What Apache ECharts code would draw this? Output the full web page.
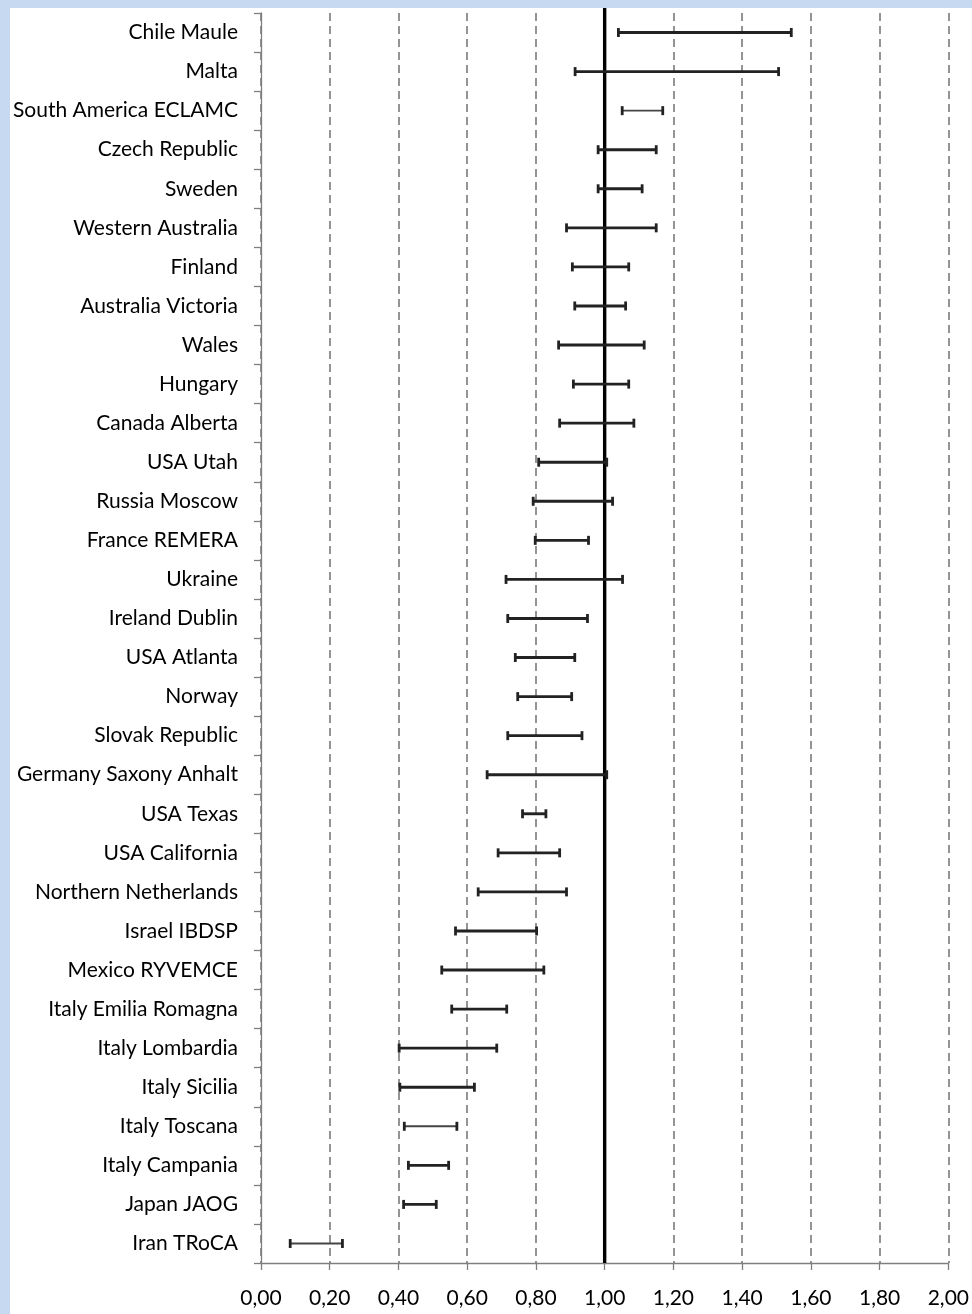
<!DOCTYPE html>
<html>
<head>
<meta charset="utf-8">
<script src="https://cdn.jsdelivr.net/npm/echarts@6/dist/echarts.min.js"></script>
<style>
  html, body { margin: 0; padding: 0; }
  #frame { position: relative; width: 972px; height: 1314px; background: #c6d9f1; overflow: hidden; }
  #chart { position: absolute; left: 10px; top: 8px; width: 962px; height: 1306px; background: #ffffff; }
</style>
</head>
<body>
<div id="frame"><div id="chart"></div></div>
<script>
// Registries, top to bottom
const registries = [
  'Chile Maule', 'Malta', 'South America ECLAMC', 'Czech Republic', 'Sweden',
  'Western Australia', 'Finland', 'Australia Victoria', 'Wales', 'Hungary',
  'Canada Alberta', 'USA Utah', 'Russia Moscow', 'France REMERA', 'Ukraine',
  'Ireland Dublin', 'USA Atlanta', 'Norway', 'Slovak Republic', 'Germany Saxony Anhalt',
  'USA Texas', 'USA California', 'Northern Netherlands', 'Israel IBDSP', 'Mexico RYVEMCE',
  'Italy Emilia Romagna', 'Italy Lombardia', 'Italy Sicilia', 'Italy Toscana', 'Italy Campania',
  'Japan JAOG', 'Iran TRoCA'
];

// Lower bound of each interval
const lower = [
  1.04, 0.914, 1.051, 0.981, 0.981,
  0.889, 0.906, 0.913, 0.866, 0.909,
  0.869, 0.808, 0.792, 0.798, 0.713,
  0.718, 0.740, 0.747, 0.718, 0.658,
  0.761, 0.690, 0.632, 0.566, 0.526,
  0.555, 0.402, 0.404, 0.417, 0.429,
  0.415, 0.085
];

// Upper bound of each interval
const upper = [
  1.543, 1.506, 1.169, 1.150, 1.109,
  1.150, 1.070, 1.061, 1.115, 1.070,
  1.085, 1.006, 1.023, 0.953, 1.052,
  0.950, 0.913, 0.904, 0.934, 1.006,
  0.829, 0.869, 0.889, 0.802, 0.823,
  0.715, 0.686, 0.621, 0.570, 0.546,
  0.510, 0.237
];

// Reference value drawn as the solid vertical line
const referenceValue = [1.0];

// X-axis tick labels (decimal comma)
const xTickLabels = ['0,00', '0,20', '0,40', '0,60', '0,80', '1,00', '1,20', '1,40', '1,60', '1,80', '2,00'];

// Intervals drawn with a lighter stroke
const lightRows = new Set(['South America ECLAMC', 'Italy Toscana', 'Iran TRoCA']);

const intervalData = registries.map((name, i) => [i, lower[i], upper[i]]);

const chart = echarts.init(document.getElementById('chart'), null, { renderer: 'canvas' });

const labelFont = 'Lato, "Open Sans", "DejaVu Sans", sans-serif';

chart.setOption({
  animation: false,
  backgroundColor: '#ffffff',
  grid: { left: 250.5, right: 20.5, top: 5, bottom: 51, containLabel: false },
  xAxis: {
    type: 'value',
    min: 0,
    max: 2,
    interval: 0.2,
    axisLine: { show: true, lineStyle: { color: '#7f7f7f', width: 1.3 } },
    axisTick: { show: true, length: 7, lineStyle: { color: '#7f7f7f', width: 1.3 } },
    axisLabel: {
      margin: 25,
      color: '#000000',
      fontFamily: labelFont,
      fontSize: 21,
      formatter: v => xTickLabels[Math.round(v / 0.2)]
    },
    splitLine: {
      show: true,
      lineStyle: { color: '#7a7a7a', width: 1.6, type: [8, 5] }
    }
  },
  yAxis: {
    type: 'category',
    data: registries,
    inverse: true,
    boundaryGap: true,
    axisLine: { show: true, lineStyle: { color: '#7f7f7f', width: 1.3 } },
    axisTick: { show: true, length: 7, alignWithLabel: false, lineStyle: { color: '#7f7f7f', width: 1.3 } },
    axisLabel: {
      margin: 23,
      color: '#000000',
      fontFamily: labelFont,
      fontSize: 21,
      interval: 0
    },
    splitLine: { show: false }
  },
  series: [
    {
      type: 'custom',
      name: 'reference',
      data: referenceValue.map(v => [v]),
      encode: { x: 0 },
      z: 3,
      renderItem: function (params, api) {
        const cs = params.coordSys;
        const x = api.coord([api.value(0), 0])[0];
        return {
          type: 'line',
          shape: { x1: x, y1: cs.y - 6, x2: x, y2: cs.y + cs.height },
          style: { stroke: '#000000', lineWidth: 3.4 }
        };
      }
    },
    {
      type: 'custom',
      name: 'intervals',
      data: intervalData,
      encode: { x: [1, 2], y: 0 },
      z: 4,
      renderItem: function (params, api) {
        const idx = api.value(0);
        const p1 = api.coord([api.value(1), idx]);
        const p2 = api.coord([api.value(2), idx]);
        const light = lightRows.has(registries[idx]);
        const style = { stroke: light ? '#454545' : '#222222', lineWidth: light ? 1.9 : 2.9 };
        const capStyle = { stroke: '#222222', lineWidth: 2.8 };
        const h = 4.5;
        return {
          type: 'group',
          children: [
            { type: 'line', shape: { x1: p1[0], y1: p1[1], x2: p2[0], y2: p2[1] }, style: style },
            { type: 'line', shape: { x1: p1[0], y1: p1[1] - h, x2: p1[0], y2: p1[1] + h }, style: capStyle },
            { type: 'line', shape: { x1: p2[0], y1: p2[1] - h, x2: p2[0], y2: p2[1] + h }, style: capStyle }
          ]
        };
      }
    }
  ]
});
</script>
</body>
</html>
